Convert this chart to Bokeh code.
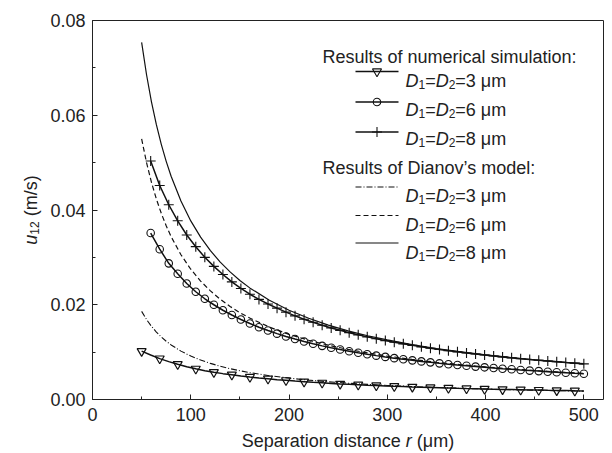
import math
from bokeh.plotting import figure
from bokeh.models import (Range1d, Label, SingleIntervalTicker, NumeralTickFormatter,
                          LinearAxis, FixedTicker)
from bokeh.embed import file_html
from bokeh.resources import INLINE

# ---------------- data ----------------
r_sim = [50.0, 59.2, 68.4, 77.6, 86.7, 95.9, 105.1, 114.3, 123.5, 132.7,
         141.8, 151.0, 160.2, 169.4, 178.6, 187.8, 196.9, 206.1, 215.3, 224.5,
         233.7, 242.9, 252.0, 261.2, 270.4, 279.6, 288.8, 298.0, 307.1, 316.3,
         325.5, 334.7, 343.9, 353.1, 362.2, 371.4, 380.6, 389.8, 399.0, 408.2,
         417.3, 426.5, 435.7, 444.9, 454.1, 463.3, 472.4, 481.6, 490.8, 500.0]

sim_3um = [0.01020, 0.00938, 0.00863, 0.00799, 0.00744, 0.00693, 0.00647, 0.00608, 0.00575, 0.00546,
           0.00522, 0.00497, 0.00474, 0.00455, 0.00437, 0.00419, 0.00404, 0.00388, 0.00375, 0.00362,
           0.00351, 0.00340, 0.00329, 0.00320, 0.00311, 0.00302, 0.00294, 0.00286, 0.00279, 0.00272,
           0.00265, 0.00259, 0.00253, 0.00247, 0.00242, 0.00236, 0.00231, 0.00227, 0.00222, 0.00217,
           0.00213, 0.00209, 0.00205, 0.00201, 0.00198, 0.00194, 0.00191, 0.00188, 0.00184, 0.00181]

sim_6um = [0.03514, 0.03173, 0.02874, 0.02653, 0.02450, 0.02274, 0.02126, 0.02000, 0.01884,
           0.01784, 0.01689, 0.01604, 0.01526, 0.01456, 0.01390, 0.01331, 0.01276, 0.01224, 0.01176,
           0.01132, 0.01091, 0.01054, 0.01018, 0.00986, 0.00955, 0.00926, 0.00899, 0.00873, 0.00849,
           0.00826, 0.00804, 0.00784, 0.00763, 0.00745, 0.00727, 0.00711, 0.00694, 0.00679, 0.00664,
           0.00649, 0.00637, 0.00623, 0.00610, 0.00599, 0.00587, 0.00576, 0.00565, 0.00554, 0.00544]

sim_8um = [0.05034, 0.04518, 0.04111, 0.03772, 0.03472, 0.03226, 0.03001, 0.02810, 0.02638,
           0.02482, 0.02344, 0.02222, 0.02113, 0.02016, 0.01928, 0.01844, 0.01766, 0.01695, 0.01630,
           0.01568, 0.01511, 0.01460, 0.01411, 0.01365, 0.01322, 0.01281, 0.01243, 0.01208, 0.01175,
           0.01143, 0.01111, 0.01083, 0.01056, 0.01030, 0.01006, 0.00983, 0.00959, 0.00939, 0.00917,
           0.00899, 0.00879, 0.00861, 0.00844, 0.00827, 0.00812, 0.00796, 0.00781, 0.00767, 0.00753]

r_model = [50, 55, 60, 65, 70, 75, 80, 90, 100, 110, 120, 130, 140, 150, 160, 180, 200,
           220, 240, 260, 280, 300, 325, 350, 375, 400, 425, 450, 475, 500]

model_3um = [0.01860, 0.01688, 0.01545, 0.01424, 0.01320, 0.01230, 0.01152, 0.01021, 0.00918, 0.00833,
             0.00762, 0.00702, 0.00651, 0.00607, 0.00568, 0.00503, 0.00451, 0.00409, 0.00374, 0.00344,
             0.00319, 0.00297, 0.00274, 0.00254, 0.00236, 0.00221, 0.00208, 0.00196, 0.00186, 0.00176]

model_6um = [0.05500, 0.05000, 0.04583, 0.04231, 0.03929, 0.03667, 0.03438, 0.03056, 0.02750, 0.02500,
             0.02292, 0.02115, 0.01964, 0.01833, 0.01719, 0.01528, 0.01375, 0.01250, 0.01146, 0.01058,
             0.00982, 0.00917, 0.00846, 0.00786, 0.00733, 0.00688, 0.00647, 0.00611, 0.00579, 0.00550]

model_8um = [0.07540, 0.06855, 0.06283, 0.05800, 0.05386, 0.05027, 0.04713, 0.04189, 0.03770, 0.03427,
             0.03142, 0.02900, 0.02693, 0.02513, 0.02356, 0.02094, 0.01885, 0.01714, 0.01571, 0.01450,
             0.01346, 0.01257, 0.01160, 0.01077, 0.01005, 0.00943, 0.00887, 0.00838, 0.00794, 0.00754]

x_axis_max, y_axis_max = 520, 0.08
sizes = ["3", "6", "8"]
legend_title_sim = "Results of numerical simulation:"
legend_title_model = "Results of Dianov\u2019s model:"

# ---------------- page geometry ----------------
FONT = "Liberation Sans"
TXT = "#222222"
AX = "#222222"
LC = "#111111"
FS = 18
PW, PH = 612, 453              # page
L, R, T, B = 92, 603, 20, 399  # plot box on the page (px)

sx = x_axis_max / (R - L)      # data units per px
sy = y_axis_max / (B - T)
x_rng = Range1d(-L * sx, x_axis_max + (PW - R) * sx)
y_rng = Range1d(-(PH - B) * sy, y_axis_max + T * sy)

p = figure(width=PW, height=PH, min_border=0, x_range=x_rng, y_range=y_rng,
           output_backend="svg", toolbar_location=None)
p.title.visible = False
p.extra_x_ranges = {"px": Range1d(0, PW)}
p.extra_y_ranges = {"px": Range1d(0, PH)}
p.xgrid.visible = False
p.ygrid.visible = False
p.outline_line_color = None
p.background_fill_color = "white"
p.border_fill_color = "white"

# axes drawn at the plot box edges
p.xaxis.fixed_location = 0
p.xaxis.bounds = (0, x_axis_max)
p.yaxis.fixed_location = 0
p.yaxis.bounds = (0, y_axis_max)
p.xaxis.ticker = SingleIntervalTicker(interval=100, num_minor_ticks=2)
p.yaxis.ticker = SingleIntervalTicker(interval=0.02, num_minor_ticks=2)
p.yaxis.formatter = NumeralTickFormatter(format="0.00")
for ax in (p.xaxis, p.yaxis):
    ax.major_tick_in = 5
    ax.major_tick_out = 0
    ax.minor_tick_in = 3
    ax.minor_tick_out = 0
    ax.axis_line_color = AX
    ax.major_tick_line_color = AX
    ax.minor_tick_line_color = AX
    ax.major_label_text_font = FONT
    ax.major_label_text_font_size = f"{FS}px"
    ax.major_label_text_color = TXT
p.xaxis.major_label_standoff = 8
p.yaxis.major_label_standoff = 7

# top and right edges of the box (plain axes without ticks)
for place, loc, bnds in (("above", y_axis_max, (0, x_axis_max)), ("right", x_axis_max, (0, y_axis_max))):
    edge = LinearAxis(fixed_location=loc, bounds=bnds, ticker=FixedTicker(ticks=[]),
                      major_tick_in=0, major_tick_out=0, minor_tick_in=0, minor_tick_out=0,
                      major_label_text_font_size="0px", axis_line_color=AX)
    p.add_layout(edge, place)

# ---------------- data marks ----------------
p.line(r_model, model_3um, line_color=LC, line_width=1.1, line_dash="6 2 1 2")
p.line(r_model, model_6um, line_color=LC, line_width=1.2, line_dash="5 3")
p.line(r_model, model_8um, line_color=LC, line_width=1.2)

p.line(r_sim, sim_3um, line_color=LC, line_width=1.5)
p.scatter(r_sim[::2], sim_3um[::2], marker="inverted_triangle", size=9,
          line_color=LC, line_width=1.2, fill_alpha=0.0)
p.line(r_sim[1:], sim_6um, line_color=LC, line_width=1.5)
p.scatter(r_sim[1:], sim_6um, marker="circle", size=7.5,
          line_color=LC, line_width=1.1, fill_alpha=0.0)
p.line(r_sim[1:], sim_8um, line_color=LC, line_width=1.5)
p.scatter(r_sim[1:], sim_8um, marker="cross", size=10, line_color=LC, line_width=1.1)

# ---------------- text helpers (page-pixel layout) ----------------
W = {'D': .722, 'S': .667, '=': .584, ' ': .278, '\u03bc': .576, 'm': .833, 'u': .556,
     '(': .333, ')': .333, '/': .278, 's': .5, 'r': .333, 'i': .222, 't': .278, 'c': .5,
     'e': .556, 'p': .556, 'a': .556, 'o': .556, 'n': .556, 'd': .556}
def tw(s, fs):
    return sum(W.get(c, .556) for c in s) * fs

def lab(X, Y, text, fs=FS, style="normal", angle=0.0, align="left"):
    p.add_layout(Label(x=X, y=PH - Y, x_range_name="px", y_range_name="px", text=text,
                       text_font=FONT, text_font_size=f"{fs}px", text_font_style=style,
                       text_color=TXT, text_align=align, text_baseline="alphabetic",
                       angle=angle))

def d_entry(X, Y, size):
    sub = 12
    x = X
    lab(x, Y, "D", style="italic"); x += tw("D", FS)
    lab(x, Y + 4, "1", fs=sub); x += tw("1", sub)
    lab(x, Y, "="); x += tw("=", FS)
    lab(x, Y, "D", style="italic"); x += tw("D", FS)
    lab(x, Y + 4, "2", fs=sub); x += tw("2", sub)
    lab(x, Y, "=" + size + " \u03bcm")

# ---------------- legend ----------------
title_x, item_x = 322, 405
sample_x0, sample_x1 = 355, 398
rows_sim = [(80, 71), (109, 101.5), (138, 131.5)]
rows_mod = [(195, 186.5), (224, 215), (252, 242.5)]
lab(title_x, 56, legend_title_sim)
lab(title_x, 167, legend_title_model)

sim_markers = [("inverted_triangle", 9), ("circle", 7.5), ("cross", 10)]
mod_dashes = ["6 2 1 2", "5 3", "solid"]
for (base, ly), s, (mk, ms) in zip(rows_sim, sizes, sim_markers):
    p.line([sample_x0, sample_x1], [PH - ly, PH - ly], x_range_name="px", y_range_name="px",
           line_color=LC, line_width=1.5)
    p.scatter([(sample_x0 + sample_x1) / 2], [PH - ly], x_range_name="px", y_range_name="px",
              marker=mk, size=ms, line_color=LC, line_width=1.1, fill_alpha=0.0)
    d_entry(item_x, base, s)
for (base, ly), s, dash in zip(rows_mod, sizes, mod_dashes):
    p.line([sample_x0, sample_x1], [PH - ly, PH - ly], x_range_name="px", y_range_name="px",
           line_color=LC, line_width=1.2, line_dash=dash)
    d_entry(item_x, base, s)

# ---------------- axis titles ----------------
SP = tw(" ", FS)
XT_BASE = 440
w_a, w_r, w_b = tw("Separation distance", FS), tw("r", FS), tw("(\u03bcm)", FS)
total = w_a + SP + w_r + SP + w_b
x_end_a = (L + R) / 2 - total / 2 + w_a
lab(x_end_a, XT_BASE, "Separation distance", align="right")
lab(x_end_a + SP, XT_BASE, "r", style="italic")
lab(x_end_a + SP + w_r + SP, XT_BASE, "(\u03bcm)")

# y title, rotated to read bottom to top
yl_total = tw("u", FS) + tw("12", 12) + SP + tw("(m/s)", FS)
Y0 = (T + B) / 2 + yl_total / 2
lab(30, Y0, "u", style="italic", angle=math.pi / 2)
Y0 -= tw("u", FS)
lab(34, Y0, "12", fs=12, angle=math.pi / 2)
Y0 -= tw("12", 12) + SP
lab(30, Y0, "(m/s)", angle=math.pi / 2)

open("out.html", "w").write(file_html(p, INLINE))
